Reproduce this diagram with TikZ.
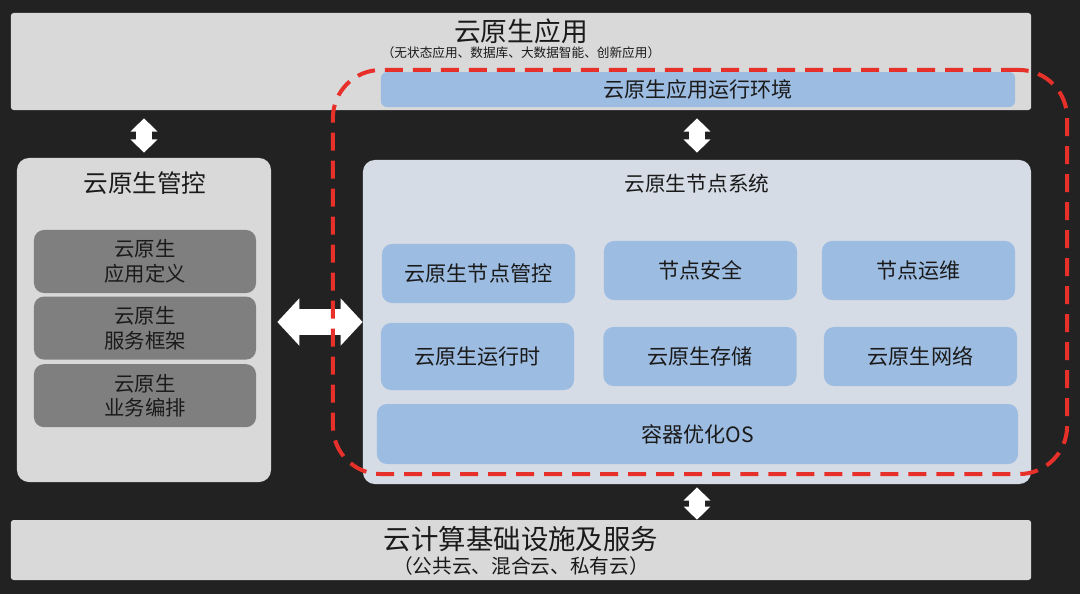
\documentclass[tikz,border=0pt]{standalone}
\usepackage{fontspec}
\setmainfont{Noto Sans CJK SC}
\usepackage{tikz}
\usetikzlibrary{arrows.meta,positioning}

\definecolor{bgdark}{HTML}{222222}
\definecolor{panelgray}{HTML}{D9D9D9}
\definecolor{darkgray}{HTML}{7F7F7F}
\definecolor{nodegray}{HTML}{D6DCE5}
\definecolor{cellblue}{HTML}{9DBCE1}
\definecolor{framered}{HTML}{E8302A}
\definecolor{inkblack}{HTML}{1A1A1A}

\begin{document}
\begin{tikzpicture}
  [x=0.025cm, y=-0.025cm,
 panel/.style={
  rectangle,
 rounded corners=2pt,
  fill=panelgray,
  inner sep=0pt},
 bigpanel/.style={
  rectangle,
 rounded corners=0.3cm,
  fill=panelgray,
  inner sep=0pt},
 darkcell/.style={
  rectangle,
 rounded corners=0.25cm,
  fill=darkgray,
  minimum width=5.55cm,
    minimum height=1.575cm,
    align=center,
  text=inkblack,
 font=\fontsize{14.5}{17.5}\selectfont},
 cell/.style={
  rectangle,
 rounded corners=0.25cm,
  fill=cellblue,
  minimum width=4.825cm,
    minimum height=1.475cm,
  text=inkblack,
 font=\fontsize{15}{18}\selectfont},
 runenv/.style={
  rectangle,
 rounded corners=1.2cm,
  draw=framered,
  line width=0.1cm,
 dash pattern=on 0.45cm off 0.25cm},
 title/.style={text=inkblack, inner sep=0pt},
bigtwoway/.style={{Triangle[width=1.15cm,length=0.55cm]}-{Triangle[width=1.15cm,length=0.55cm]}, line width=0.65cm, draw=white},
smalltwoway/.style={{Triangle[width=0.65cm,length=0.33cm]}-{Triangle[width=0.65cm,length=0.33cm]}, line width=0.4cm, draw=white}]
% background and page size
\fill[bgdark] (0,0) rectangle (1080,594);
\useasboundingbox (0,0) rectangle (1080,594);
% top layer
\node (app) [panel, minimum width=25.5cm, minimum height=2.425cm] at (521,61.5) {};
\node (apptitle) [title, font=\fontsize{19}{22}\selectfont] at (521,31) {云原生应用};
\node (appsub) [title, font=\fontsize{9}{11}\selectfont] at (521,53) {（无状态应用、数据库、大数据智能、创新应用）};
\node (appenv) [cell, rounded corners=0.15cm, minimum width=15.85cm, minimum height=0.875cm] at (698,89.5) {云原生应用运行环境};
% control plane
\node (ctrl) [bigpanel, minimum width=6.35cm, minimum height=8.1cm] at (144,320) {};
\node (ctrltitle) [title, font=\fontsize{17.5}{20}\selectfont] at (145,183) {云原生管控};
\node (appdef) [darkcell] at (145,261.5) {云原生\\应用定义};
\node (svcfw) [darkcell, below=0.075cm of appdef] {云原生\\服务框架};
\node (orch) [darkcell, below=0.1cm of svcfw] {云原生\\业务编排};
% node system
\node (nodesys) [bigpanel, fill=nodegray, minimum width=16.7cm, minimum height=8.1cm] at (697,322) {};
\node (nodetitle) [title, font=\fontsize{14.7}{17}\selectfont] at (697,184) {云原生节点系统};
\node (nodectrl) [cell] at (478.5,273.5) {云原生节点管控};
\node (nodesec) [cell] at (700.5,270.5) {节点安全};
\node (nodeops) [cell] at (918.5,270.5) {节点运维};
\node (runtime) [cell, minimum height=1.675cm] at (477.5,356.5) {云原生运行时};
\node (storage) [cell] at (700,356.5) {云原生存储};
\node (network) [cell] at (920.5,356.5) {云原生网络};
\node (os) [cell, minimum width=16.025cm, minimum height=1.5cm] at (697.5,434) {容器优化OS};
% infrastructure
\node (infra) [panel, minimum width=25.5cm, minimum height=1.5cm] at (521,550) {};
\node (infratitle) [title, font=\fontsize{19.5}{22}\selectfont] at (521,539) {云计算基础设施及服务};
\node (infrasub) [title, font=\fontsize{14}{16}\selectfont] at (521,566) {（公共云、混合云、私有云）};
% links
\path (ctrl.north) edge[smalltwoway, shorten <=0.125cm, shorten >=0.2cm] (ctrl.north |- app.south) ;
\path (nodesys.north) edge[smalltwoway, shorten <=0.175cm, shorten >=0.2cm] (nodesys.north |- app.south) ;
\path (nodesys.south) edge[smalltwoway, shorten <=0.075cm] (infra.north -| nodesys.south) ;
\path (ctrl.east |- nodesys.west) edge[bigtwoway, shorten <=0.15cm] (nodesys.west) ;
% runtime frame on top
\node (runframe) [runenv, minimum width=18.35cm, minimum height=10.1cm] at (700,272) {};
\end{tikzpicture}
\end{document}
